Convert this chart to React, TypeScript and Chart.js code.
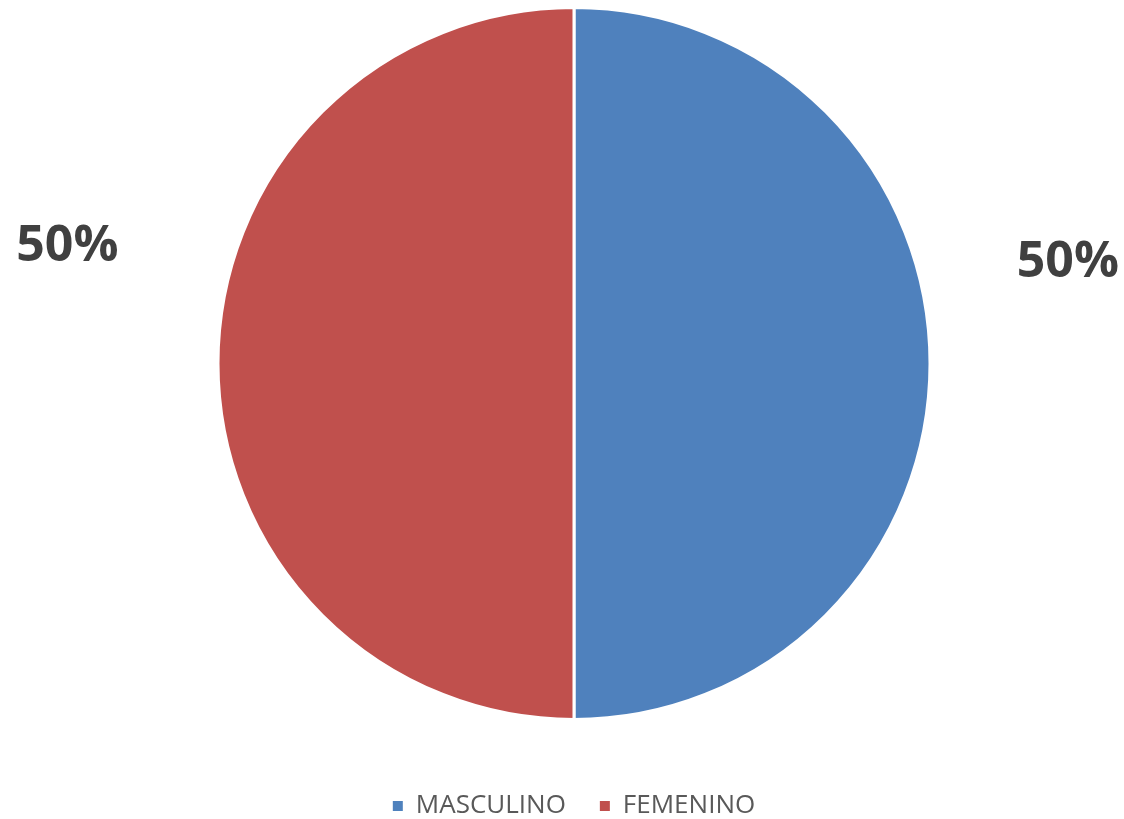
import React, { useEffect, useRef } from "react";
import { Chart, registerables } from "chart.js";

Chart.register(...registerables);

const categories = ["MASCULINO", "FEMENINO"];
const values = [50, 50];
const colors = ["#4F81BD", "#C0504D"];

const outsideLabels = {
  id: "outsideLabels",
  afterDatasetsDraw(chart: any, _args: any, opts: any) {
    const ctx = chart.ctx;
    const meta = chart.getDatasetMeta(0);
    const data = chart.data.datasets[0].data as number[];
    const total = data.reduce((a, b) => a + b, 0);
    ctx.save();
    ctx.font = "bold 50px 'Open Sans'";
    ctx.fillStyle = "#404040";
    ctx.textAlign = "center";
    ctx.textBaseline = "middle";
    meta.data.forEach((arc: any, i: number) => {
      const p = arc.getProps(["x", "y", "startAngle", "endAngle", "outerRadius"], true);
      const mid = (p.startAngle + p.endAngle) / 2 + (opts.angleOffsets[i] * Math.PI) / 180;
      const r = p.outerRadius + opts.distances[i];
      const x = p.x + Math.cos(mid) * r;
      const y = p.y + Math.sin(mid) * r;
      const pct = Math.round((data[i] / total) * 100) + "%";
      ctx.fillText(pct, x, y);
    });
    ctx.restore();
  },
};

export default function App() {
  const ref = useRef<HTMLCanvasElement>(null);
  useEffect(() => {
    if (!ref.current) return;
    const chart = new Chart(ref.current, {
      type: "pie",
      data: {
        labels: categories,
        datasets: [
          {
            data: values,
            backgroundColor: colors,
            borderColor: "#FFFFFF",
            borderWidth: 3,
          },
        ],
      },
      options: {
        animation: false,
        responsive: true,
        maintainAspectRatio: false,
        layout: { padding: { top: 6, left: 24, right: 0, bottom: -10 } },
        plugins: {
          tooltip: { enabled: false },
          legend: {
            position: "bottom",
            title: { display: true, text: " ", padding: { top: 23.6, bottom: 0 }, font: { size: 12 } },
            labels: {
              boxWidth: 10,
              boxHeight: 10,
              padding: 34,
              color: "#595959",
              font: { family: "'Open Sans'", size: 26 },
              generateLabels: (chart: any) =>
                Chart.overrides.pie.plugins.legend.labels
                  .generateLabels(chart)
                  .map((l: any) => ({ ...l, lineWidth: 0, strokeStyle: "rgba(0,0,0,0)" })),
            },
          },
          outsideLabels: { angleOffsets: [-11.5, 13], distances: [148, 164] },
        } as any,
      },
      plugins: [outsideLabels],
    });
    return () => chart.destroy();
  }, []);
  return (
    <div style={{ position: "absolute", left: 0, top: 0, width: 1124, height: 819 }}>
      <canvas ref={ref} />
    </div>
  );
}
